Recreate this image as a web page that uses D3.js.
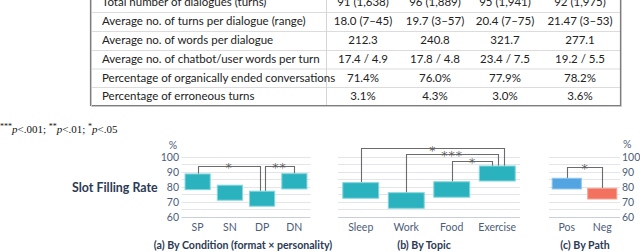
<!DOCTYPE html>
<html><head><meta charset="utf-8">
<script src="https://cdn.jsdelivr.net/npm/d3@7"></script>
<style>
html,body{margin:0;padding:0;background:#fff;}
svg{display:block;}
</style></head>
<body>
<svg id="chart" width="640" height="252"></svg>
<script>
// ---------- DATA ----------
const tableLabels = [
  "Total number of dialogues (turns)",
  "Average no. of turns per dialogue (range)",
  "Average no. of words per dialogue",
  "Average no. of chatbot/user words per turn",
  "Percentage of organically ended conversations",
  "Percentage of erroneous turns"
];
const tableCol1 = ["91 (1,638)", "18.0 (7–45)", "212.3", "17.4 / 4.9", "71.4%", "3.1%"];
const tableCol2 = ["96 (1,889)", "19.7 (3–57)", "240.8", "17.8 / 4.8", "76.0%", "4.3%"];
const tableCol3 = ["95 (1,941)", "20.4 (7–75)", "321.7", "23.4 / 7.5", "77.9%", "3.0%"];
const tableCol4 = ["92 (1,975)", "21.47 (3–53)", "277.1", "19.2 / 5.5", "78.2%", "3.6%"];

const yTicks = [60, 70, 80, 90, 100];
const gridValues = [60, 65, 70, 75, 80, 85, 90, 95, 100];

const condCats = ["SP", "SN", "DP", "DN"];
const condLow  = [78, 71, 67, 78.5];
const condHigh = [88.5, 81, 77, 88.7];
const condSig = [
  {a: "SP", b: "DP", y: 94, label: "*"},
  {a: "DP", b: "DN", y: 94, label: "**"}
];

const topicCats = ["Sleep", "Work", "Food", "Exercise"];
const topicLow  = [72.3, 65.6, 73, 83.8];
const topicHigh = [82.7, 76, 83.3, 93.8];
const topicSig = [
  {a: "Sleep", b: "Exercise", y: 105.6, label: "*"},
  {a: "Work",  b: "Exercise", y: 102.0, label: "***"},
  {a: "Food",  b: "Exercise", y: 97.2, label: "*"}
];

const pathCats = ["Pos", "Neg"];
const pathLow  = [78.5, 71.8];
const pathHigh = [85.6, 78.9];
const pathSig = [{a: "Pos", b: "Neg", y: 93.3, label: "*"}];

// ---------- STYLE ----------
const tickColor = "#4d5d78";
const titleColor = "#2b3a55";
const teal = "#2ab3bf";
const tealEdge = "#86d6dc";
const uiFont = "Lato, 'Noto Sans', sans-serif";

const svg = d3.select("#chart");

// ---------- TABLE ----------
const tbl = svg.append("g");
const rowEdges = [-7, 12, 31, 50, 68.5, 87, 106];
const tx0 = 90.5, tx1 = 620.5, sepX = 326.5;
const colCenters = [363, 435, 505, 580];
const cols = [tableCol1, tableCol2, tableCol3, tableCol4];
const tableFont = "'Lato', 'DejaVu Sans', sans-serif";
const tableSize = 11.5;

tbl.selectAll("line.rs").data(rowEdges.slice(1, -1)).join("line")
  .attr("x1", tx0).attr("x2", tx1).attr("y1", d => d + 0.5).attr("y2", d => d + 0.5)
  .attr("stroke", "#dcdcdc").attr("stroke-width", 1);
tbl.append("line").attr("x1", sepX).attr("x2", sepX).attr("y1", -7).attr("y2", 106)
  .attr("stroke", "#d4d4d4");
tbl.append("path").attr("d", `M${tx0},-7V${105.5}H${tx1}V-7`).attr("fill", "none")
  .attr("stroke", "#7d7d7d").attr("stroke-width", 1.2);
tbl.append("path").attr("d", `M${tx0+1},-7V${106.5}H${tx1+1}V-7`).attr("fill", "none")
  .attr("stroke", "#c8c8c8").attr("stroke-width", 1);

tableLabels.forEach((lab, i) => {
  const cy = (rowEdges[i] + rowEdges[i + 1]) / 2;
  tbl.append("text").attr("x", 102).attr("y", cy + 3.8)
    .attr("font-family", tableFont).attr("font-size", tableSize).attr("fill", "#222")
    .text(lab);
  cols.forEach((col, j) => {
    tbl.append("text").attr("x", colCenters[j]).attr("y", cy + 3.8)
      .attr("text-anchor", "middle")
      .attr("font-family", tableFont).attr("font-size", tableSize).attr("fill", "#222")
      .text(col[i]);
  });
});

// ---------- FOOTNOTE ----------
const fn = svg.append("text").attr("x", 0).attr("y", 133)
  .attr("font-family", "'Liberation Serif', 'DejaVu Serif', serif").attr("font-size", 11).attr("fill", "#111");
const fnParts = [["***", "sup"], ["p", "it"], ["<.001; ", ""], ["**", "sup"], ["p", "it"], ["<.01; ", ""], ["*", "sup"], ["p", "it"], ["<.05", ""]];
fnParts.forEach(([t, k]) => {
  const s = fn.append("tspan").text(t);
  if (k === "sup") s.attr("font-size", 8).attr("baseline-shift", "super");
  if (k === "it") s.attr("font-style", "italic");
});

// ---------- PANELS ----------
const y = d3.scaleLinear().domain([60, 100]).range([216.7, 156.7]);

function panel(cfg) {
  const g = svg.append("g");
  const x = d3.scaleBand().domain(cfg.cats).range(cfg.range)
    .paddingInner(cfg.pad).paddingOuter(cfg.pad / 2);
  g.selectAll("line.grid").data(gridValues).join("line")
    .attr("x1", cfg.range[0]).attr("x2", cfg.range[1])
    .attr("y1", d => Math.round(y(d)) + 0.5).attr("y2", d => Math.round(y(d)) + 0.5)
    .attr("stroke", d => d === 60 ? "#c9ced8" : "#e2e5ea").attr("stroke-width", 1);
  cfg.sig.forEach(s => {
    const ia = cfg.cats.indexOf(s.a), ib = cfg.cats.indexOf(s.b);
    const xa = x(s.a) + x.bandwidth() / 2 + (s.dxa || 0);
    const xb = x(s.b) + x.bandwidth() / 2 + (s.dxb || 0);
    const yt = Math.round(y(s.y)) + 0.5;
    g.append("path")
      .attr("d", `M${Math.round(xa)+0.5},${y(cfg.high[ia])}V${yt}H${Math.round(xb)+0.5}V${y(cfg.high[ib])}`)
      .attr("fill", "none").attr("stroke", "#6b6b6b").attr("stroke-width", 1.1);
  });
  g.selectAll("rect.bar").data(cfg.cats).join("rect")
    .attr("x", d => x(d)).attr("width", x.bandwidth())
    .attr("y", (d, i) => y(cfg.high[i]))
    .attr("height", (d, i) => y(cfg.low[i]) - y(cfg.high[i]))
    .attr("fill", (d, i) => cfg.colors[i])
    .attr("stroke", (d, i) => cfg.edges[i]).attr("stroke-width", 1);
  cfg.sig.forEach(s => {
    const xa = x(s.a) + x.bandwidth() / 2 + (s.dxa || 0);
    const xb = x(s.b) + x.bandwidth() / 2 + (s.dxb || 0);
    g.append("text")
      .attr("x", (xa + xb) / 2).attr("y", y(s.y) + 6.5)
      .attr("text-anchor", "middle")
      .attr("font-family", "'DejaVu Sans', sans-serif").attr("font-size", 12.5)
      .attr("letter-spacing", s.label.length > 1 ? 1 : 0)
      .attr("fill", "#5f5f5f").text(s.label);
  });
  g.selectAll("text.xl").data(cfg.cats).join("text")
    .attr("x", d => x(d) + x.bandwidth() / 2).attr("y", 231)
    .attr("text-anchor", "middle").attr("font-family", uiFont).attr("font-size", 10.5)
    .attr("fill", tickColor).text(d => d);
  g.append("text").attr("x", cfg.capX).attr("y", 248.5).attr("text-anchor", "middle")
    .attr("font-family", uiFont).attr("font-weight", "bold").attr("font-size", 10.6)
    .attr("fill", titleColor).text(cfg.caption);
  return {g, x};
}

// (a)
const pa = panel({
  cats: condCats, low: condLow, high: condHigh,
  range: [181.5, 310.5], pad: 0.22,
  colors: condCats.map(() => teal), edges: condCats.map(() => tealEdge),
  sig: [
    Object.assign({}, condSig[0], {dxb: -2.5}),
    Object.assign({}, condSig[1], {dxa: 2.5})
  ],
  caption: "(a) By Condition (format × personality)", capX: 243
});
pa.g.selectAll("text.yl").data(yTicks).join("text")
  .attr("x", 179).attr("y", d => y(d) + 3.8).attr("text-anchor", "end")
  .attr("font-family", uiFont).attr("font-size", 10.5).attr("fill", tickColor).text(d => d);
pa.g.append("text").attr("x", 173).attr("y", 148.5).attr("text-anchor", "middle")
  .attr("font-family", uiFont).attr("font-size", 10.5).attr("fill", tickColor).text("%");
svg.append("text").attr("x", 72).attr("y", 191.5)
  .attr("font-family", uiFont).attr("font-weight", "bold").attr("font-size", 12.4)
  .attr("fill", titleColor).text("Slot Filling Rate");

// (b)
panel({
  cats: topicCats, low: topicLow, high: topicHigh,
  range: [338, 520], pad: 0.21,
  colors: topicCats.map(() => teal), edges: topicCats.map(() => tealEdge),
  sig: [
    Object.assign({}, topicSig[0], {dxb: 6.5}),
    Object.assign({}, topicSig[1], {dxb: 0.5}),
    Object.assign({}, topicSig[2], {dxb: -5})
  ],
  caption: "(b) By Topic", capX: 424
});

// (c)
const pc = panel({
  cats: pathCats, low: pathLow, high: pathHigh,
  range: [549, 620], pad: 0.18,
  colors: ["#52a5e0", "#f2725f"], edges: ["#8cc4ec", "#f6a396"],
  sig: pathSig,
  caption: "(c) By Path", capX: 585
});
pc.g.selectAll("text.yr").data(yTicks).join("text")
  .attr("x", 622).attr("y", d => y(d) + 3.8).attr("text-anchor", "start")
  .attr("font-family", uiFont).attr("font-size", 10.5).attr("fill", tickColor).text(d => d);
pc.g.append("text").attr("x", 623).attr("y", 147.5).attr("text-anchor", "start")
  .attr("font-family", uiFont).attr("font-size", 10.5).attr("fill", tickColor).text("%");
</script>
</body></html>
